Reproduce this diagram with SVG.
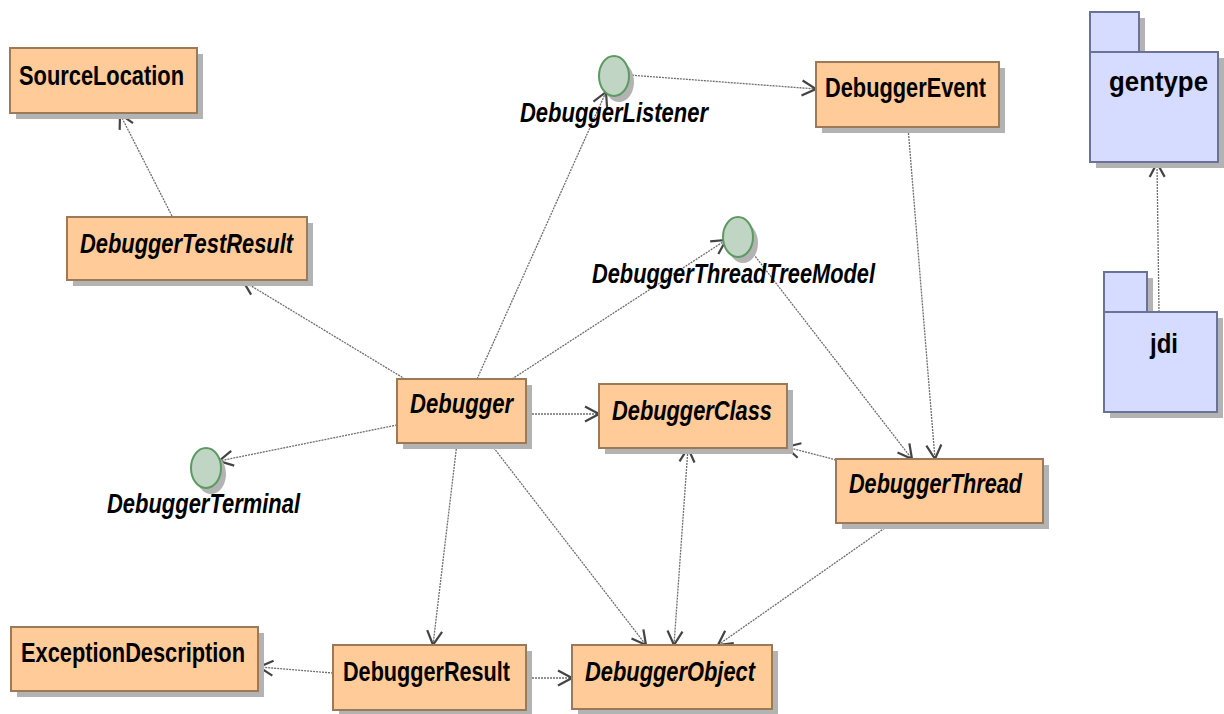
<svg xmlns="http://www.w3.org/2000/svg" width="1224" height="714" viewBox="0 0 1224 714">
  <style>
    .shadow { fill: #b3b3b3; }
    .cls { fill: #ffcc99; stroke: #9c7a58; stroke-width: 2; }
    .pkg { fill: #d5dcff; stroke: #6a7396; stroke-width: 2; }
    .iface { fill: #c0d5c3; stroke: #5c9a62; stroke-width: 2; }
    .lbl { font-family: "Liberation Sans Narrow", "Liberation Sans", Arial, sans-serif; font-weight: bold; font-size: 28px; fill: #000; }
    .it { font-style: italic; }
    .dep { fill: none; stroke: #6e6e6e; stroke-width: 1.3; stroke-dasharray: 2 1; marker-end: url(#open); }
  </style>
  <defs>
    <marker id="open" viewBox="-16 -9 18 18" markerWidth="18" markerHeight="18" refX="0" refY="0" orient="auto-start-reverse" markerUnits="userSpaceOnUse">
      <path d="M -14 -7.5 L 0 0 L -14 7.5" fill="none" stroke="#444" stroke-width="2.2"/>
    </marker>
  </defs>
  <rect width="1224" height="714" fill="#fff"/>

  <!-- connectors -->
  <g id="connectors">
    <line class="dep" x1="172" y1="216" x2="120" y2="114"/>
    <line class="dep" x1="405" y1="379" x2="243" y2="281"/>
    <line class="dep" x1="477" y1="379" x2="606" y2="92"/>
    <line class="dep" x1="629" y1="75" x2="816" y2="89"/>
    <line class="dep" x1="512" y1="379" x2="726" y2="240"/>
    <line class="dep" x1="748" y1="247" x2="912" y2="459"/>
    <line class="dep" x1="908" y1="127" x2="935" y2="459"/>
    <line class="dep" x1="526" y1="414" x2="599" y2="414"/>
    <line class="dep" x1="836" y1="460" x2="786" y2="447"/>
    <line class="dep" x1="397" y1="425" x2="219" y2="461"/>
    <line class="dep" x1="457" y1="443" x2="433" y2="645"/>
    <line class="dep" x1="490" y1="443" x2="646" y2="645"/>
    <line class="dep" x1="688" y1="448" x2="674" y2="645" marker-start="url(#open)"/>
    <line class="dep" x1="892" y1="523" x2="718" y2="645"/>
    <line class="dep" x1="333" y1="673" x2="259" y2="667"/>
    <line class="dep" x1="526" y1="678" x2="572" y2="678"/>
    <line class="dep" x1="1159" y1="312" x2="1157" y2="163"/>
  </g>

  <!-- classes -->
  <g id="SourceLocation">
    <rect class="shadow" x="16" y="54" width="187" height="65"/>
    <rect class="cls" x="10" y="48" width="187" height="65"/>
    <text class="lbl" x="19" y="85" textLength="165" lengthAdjust="spacingAndGlyphs">SourceLocation</text>
  </g>
  <g id="DebuggerTestResult">
    <rect class="shadow" x="73" y="223" width="240" height="63"/>
    <rect class="cls" x="67" y="217" width="240" height="63"/>
    <text class="lbl it" x="80" y="253" textLength="213" lengthAdjust="spacingAndGlyphs">DebuggerTestResult</text>
  </g>
  <g id="DebuggerEvent">
    <rect class="shadow" x="822" y="68" width="183" height="65"/>
    <rect class="cls" x="816" y="62" width="183" height="65"/>
    <text class="lbl" x="825" y="97" textLength="161" lengthAdjust="spacingAndGlyphs">DebuggerEvent</text>
  </g>
  <g id="Debugger">
    <rect class="shadow" x="403" y="385" width="129" height="64"/>
    <rect class="cls" x="397" y="379" width="129" height="64"/>
    <text class="lbl it" x="410" y="413" textLength="103" lengthAdjust="spacingAndGlyphs">Debugger</text>
  </g>
  <g id="DebuggerClass">
    <rect class="shadow" x="605" y="390" width="188" height="64"/>
    <rect class="cls" x="599" y="384" width="188" height="64"/>
    <text class="lbl it" x="612" y="420" textLength="160" lengthAdjust="spacingAndGlyphs">DebuggerClass</text>
  </g>
  <g id="DebuggerThread">
    <rect class="shadow" x="842" y="465" width="207" height="64"/>
    <rect class="cls" x="836" y="459" width="207" height="64"/>
    <text class="lbl it" x="849" y="493" textLength="173" lengthAdjust="spacingAndGlyphs">DebuggerThread</text>
  </g>
  <g id="ExceptionDescription">
    <rect class="shadow" x="17" y="633" width="247" height="64"/>
    <rect class="cls" x="11" y="627" width="247" height="64"/>
    <text class="lbl" x="21" y="662" textLength="224" lengthAdjust="spacingAndGlyphs">ExceptionDescription</text>
  </g>
  <g id="DebuggerResult">
    <rect class="shadow" x="339" y="651" width="193" height="65"/>
    <rect class="cls" x="333" y="645" width="193" height="65"/>
    <text class="lbl" x="343" y="681" textLength="167" lengthAdjust="spacingAndGlyphs">DebuggerResult</text>
  </g>
  <g id="DebuggerObject">
    <rect class="shadow" x="578" y="651" width="200" height="64"/>
    <rect class="cls" x="572" y="645" width="200" height="64"/>
    <text class="lbl it" x="585" y="681" textLength="170" lengthAdjust="spacingAndGlyphs">DebuggerObject</text>
  </g>

  <!-- interfaces -->
  <g id="DebuggerListener">
    <ellipse class="shadow" cx="619" cy="82" rx="15" ry="20"/>
    <ellipse class="iface" cx="614" cy="76" rx="15" ry="20"/>
    <text class="lbl it" x="520" y="122" textLength="188" lengthAdjust="spacingAndGlyphs">DebuggerListener</text>
  </g>
  <g id="DebuggerThreadTreeModel">
    <ellipse class="shadow" cx="743" cy="243" rx="15" ry="20"/>
    <ellipse class="iface" cx="738" cy="237" rx="15" ry="20"/>
    <text class="lbl it" x="592" y="283" textLength="283" lengthAdjust="spacingAndGlyphs">DebuggerThreadTreeModel</text>
  </g>
  <g id="DebuggerTerminal">
    <ellipse class="shadow" cx="211" cy="474" rx="15" ry="20"/>
    <ellipse class="iface" cx="206" cy="468" rx="15" ry="20"/>
    <text class="lbl it" x="107" y="513" textLength="193" lengthAdjust="spacingAndGlyphs">DebuggerTerminal</text>
  </g>

  <!-- packages -->
  <g id="gentype">
    <rect class="shadow" x="1096" y="18" width="49" height="40"/>
    <rect class="shadow" x="1096" y="58" width="128" height="110"/>
    <rect class="pkg" x="1090" y="12" width="49" height="40"/>
    <rect class="pkg" x="1090" y="52" width="128" height="110"/>
    <text class="lbl" x="1109" y="91" textLength="99" lengthAdjust="spacingAndGlyphs">gentype</text>
  </g>
  <g id="jdi">
    <rect class="shadow" x="1110" y="278" width="43" height="40"/>
    <rect class="shadow" x="1110" y="318" width="113" height="100"/>
    <rect class="pkg" x="1104" y="272" width="43" height="40"/>
    <rect class="pkg" x="1104" y="312" width="113" height="100"/>
    <text class="lbl" x="1150" y="353" textLength="28" lengthAdjust="spacingAndGlyphs">jdi</text>
  </g>
</svg>
